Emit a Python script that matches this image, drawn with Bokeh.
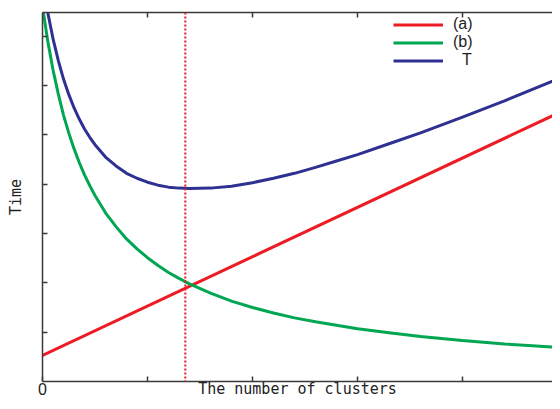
from bokeh.plotting import figure
from bokeh.models import Range1d, FixedTicker, LinearAxis, Span, Legend, LegendItem
from bokeh.embed import file_html
from bokeh.resources import INLINE

# ---- data ----
k_vals = [0, 0.5, 1, 1.5, 2, 2.5, 3, 3.5, 4, 4.5, 5, 6, 7, 8, 9, 10, 11, 12,
          13, 14, 16, 18, 20, 22, 24, 26, 28, 30, 33, 36, 40, 44, 50]
b_vals = [7.60, 6.90, 6.32, 5.83, 5.40, 5.04, 4.72, 4.44, 4.19, 3.97, 3.77,
          3.42, 3.14, 2.89, 2.69, 2.51, 2.35, 2.21, 2.09, 1.98, 1.79, 1.63,
          1.50, 1.39, 1.29, 1.21, 1.14, 1.07, 0.99, 0.91, 0.83, 0.76, 0.68]
t_vals = [8.13, 7.48, 6.95, 6.51, 6.13, 5.82, 5.55, 5.32, 5.12, 4.95, 4.80,
          4.55, 4.37, 4.22, 4.12, 4.04, 3.98, 3.94, 3.92, 3.91, 3.92, 3.96,
          4.03, 4.12, 4.22, 4.34, 4.47, 4.60, 4.82, 5.04, 5.36, 5.69, 6.21]
a_k = [0, 50]
a_vals = [0.53, 5.53]
opt_k = 13.6
x_ticks = [0, 10, 20, 30, 40]
x_tick_labels = {0: "0", 10: "", 20: "", 30: "", 40: ""}
y_ticks = [1, 2, 3, 4, 5, 6, 7]
series_names = ["(a)", "(b)", "T"]

RED = "#ED1C24"
GREEN = "#00A651"
BLUE = "#2E3192"
AXIS = "#3a3a3a"
MONO = "DejaVu Sans Mono"

p = figure(width=552, height=401, output_backend="svg", toolbar_location=None,
           x_range=Range1d(0, 48.57), y_range=Range1d(0, 7.48),
           min_border_left=42, min_border_right=0, min_border_top=12,
           min_border_bottom=20, x_axis_label="The number of clusters",
           y_axis_label="Time")
p.grid.visible = False
p.outline_line_color = None
p.background_fill_color = "white"
p.border_fill_color = "white"

r_a = p.line(a_k, a_vals, line_color=RED, line_width=3)
r_b = p.line(k_vals, b_vals, line_color=GREEN, line_width=3)
r_t = p.line(k_vals, t_vals, line_color=BLUE, line_width=3)

p.add_layout(Span(location=opt_k, dimension="height", line_color=RED,
                  line_width=2, line_dash="2 2"))

for ax in (p.xaxis[0], p.yaxis[0]):
    ax.axis_line_color = AXIS
    ax.axis_line_width = 1.5
    ax.major_tick_line_color = AXIS
    ax.major_tick_line_width = 1.5
    ax.major_tick_in = 5
    ax.major_tick_out = 0
    ax.minor_tick_line_color = None
    ax.axis_label_text_font = MONO
    ax.axis_label_text_font_size = "15px"
    ax.axis_label_text_font_style = "normal"
    ax.axis_label_text_color = "#222222"

xa = p.xaxis[0]
xa.ticker = FixedTicker(ticks=x_ticks)
xa.major_label_overrides = x_tick_labels
xa.major_label_standoff = 1
xa.major_label_text_font = "Liberation Sans"
xa.major_label_text_font_size = "16px"
xa.major_label_text_color = "#222222"
xa.axis_label_standoff = -18

ya = p.yaxis[0]
ya.ticker = FixedTicker(ticks=y_ticks)
ya.major_label_overrides = {t: "" for t in y_ticks}
ya.major_label_standoff = 0
ya.axis_label_standoff = 18

top = LinearAxis(ticker=FixedTicker(ticks=x_ticks[1:]),
                 major_label_overrides={t: "" for t in x_ticks},
                 major_label_standoff=0, axis_line_color=AXIS,
                 axis_line_width=1.5, major_tick_line_color=AXIS,
                 major_tick_line_width=1.5, major_tick_in=5, major_tick_out=0,
                 minor_tick_line_color=None)
p.add_layout(top, "above")

for name, rend, loc, standoff in [(series_names[0], r_a, (351, 348), 10),
                                  (series_names[1], r_b, (351, 330), 10),
                                  (series_names[2], r_t, (351, 312), 19)]:
    lg = Legend(items=[LegendItem(label=name, renderers=[rend])],
                location=loc, padding=0, margin=0, spacing=0,
                glyph_width=50, glyph_height=17, label_height=17,
                label_standoff=standoff,
                label_text_font="Liberation Sans", label_text_font_size="16px",
                label_text_color="#222222",
                border_line_color=None, background_fill_alpha=0)
    p.add_layout(lg)

open("out.html", "w").write(file_html(p, INLINE))
